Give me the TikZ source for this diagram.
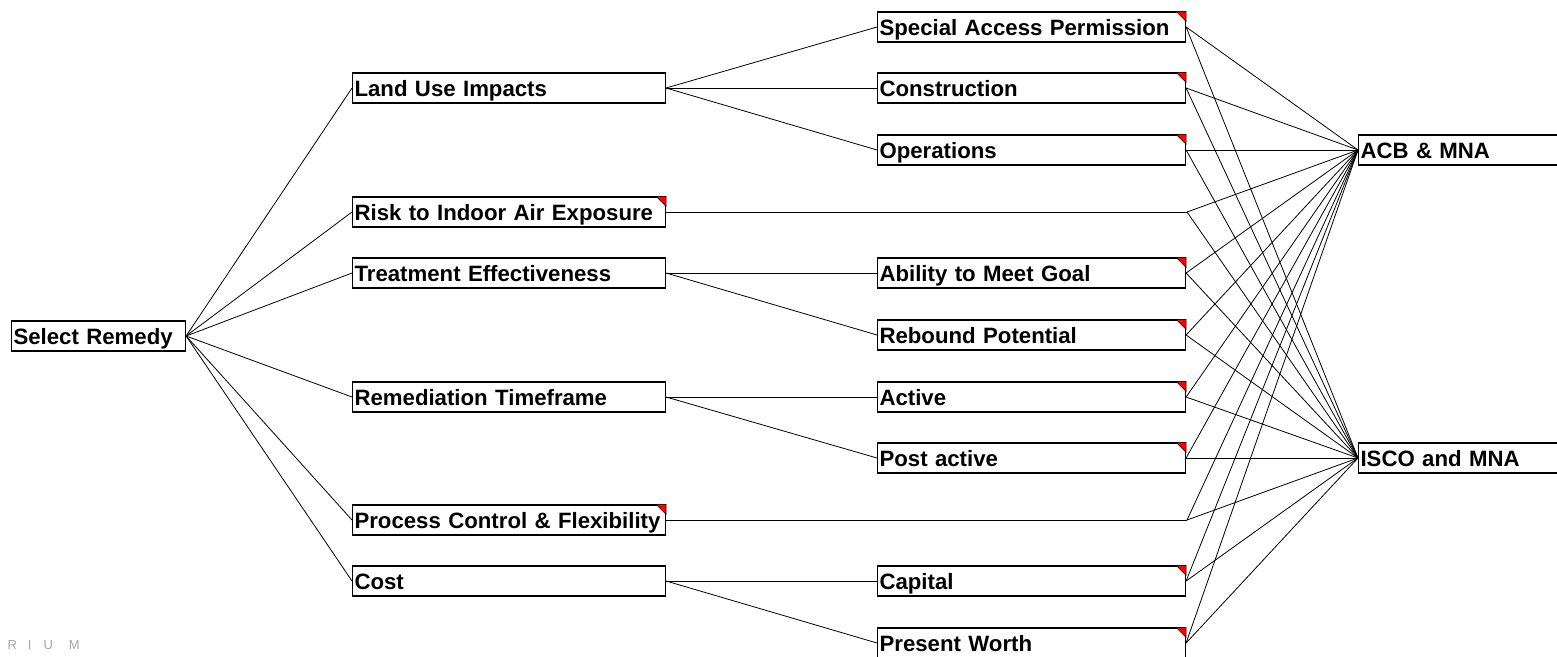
\documentclass[tikz,border=0pt]{standalone}
\usepackage{fontspec}
\setmainfont{Liberation Sans}
\begin{document}
\begin{tikzpicture}[x=1pt,y=-1pt,
  box/.style={draw, line width=1.1pt, minimum height=30pt, inner xsep=2pt, inner ysep=0pt, anchor=west,
    font=\fontsize{22.2}{24}\selectfont\bfseries, text width=#1, align=left, fill=white,
    text height=18pt, text depth=2pt},
  conn/.style={line width=0.8pt},
  flag/.style={fill=red, draw=black, line width=0.5pt}]
\useasboundingbox (0,0) rectangle (1557,656);

% level 1
\node[box=170pt] (sr) at (11,336) {Select Remedy};
% level 2
\node[box=309pt] (lu) at (352,88) {Land Use Impacts};
\node[box=309pt] (ri) at (352,212) {Risk to Indoor Air Exposure};
\node[box=309pt] (te) at (352,273) {Treatment Effectiveness};
\node[box=309pt] (rt) at (352,397) {Remediation Timeframe};
\node[box=309pt] (pc) at (352,520) {Process Control \& Flexibility};
\node[box=309pt] (co) at (352,581) {Cost};
% level 3
\node[box=304pt] (sap) at (877,27) {Special Access Permission};
\node[box=304pt] (con) at (877,88) {Construction};
\node[box=304pt] (op) at (877,150) {Operations};
\node[box=304pt] (amg) at (877,273) {Ability to Meet Goal};
\node[box=304pt] (rp) at (877,335) {Rebound Potential};
\node[box=304pt] (ac) at (877,397) {Active};
\node[box=304pt] (pa) at (877,458) {Post active};
\node[box=304pt] (cap) at (877,581) {Capital};
\node[box=304pt] (pw) at (877,643) {Present Worth};
% alternatives
\node[box=200pt] (acb) at (1358,150) {ACB \& MNA};
\node[box=200pt] (isco) at (1358,458) {ISCO and MNA};

\coordinate (rix) at (1187,212);
\coordinate (pcx) at (1187,520);

% connectors
\foreach \n in {lu,ri,te,rt,pc,co} \draw[conn] (sr.east) -- (\n.west);
\foreach \a/\b in {lu/sap,lu/con,lu/op,te/amg,te/rp,rt/ac,rt/pa,co/cap,co/pw}
  \draw[conn] (\a.east) -- (\b.west);
\draw[conn] (ri.east) -- (rix);
\draw[conn] (pc.east) -- (pcx);
\foreach \n in {sap.east,con.east,op.east,rix,amg.east,rp.east,ac.east,pa.east,pcx,cap.east,pw.east} {
  \draw[conn] (\n) -- (acb.west);
  \draw[conn] (\n) -- (isco.west);
}

% flags
\foreach \n in {ri,pc,sap,con,op,amg,rp,ac,pa,cap,pw}
  \draw[flag] ([xshift=-10pt]\n.north east) -- (\n.north east) -- ([yshift=-10pt]\n.north east) -- cycle;

% watermark
\node[anchor=west, text=gray!70, font=\fontsize{13}{14}\selectfont] (wm) at (4,645) {R\hspace{11pt}I\hspace{12pt}U\hspace{16pt}M};
\end{tikzpicture}
\end{document}
